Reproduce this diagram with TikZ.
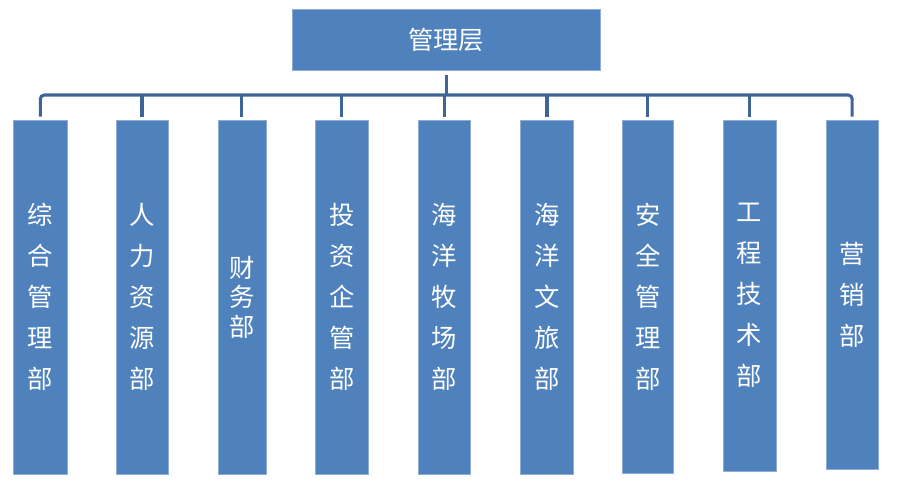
\documentclass[tikz,border=0pt]{standalone}
\usepackage{fontspec}
\newfontfamily\cjk{Noto Sans CJK SC}
\definecolor{boxblue}{HTML}{4F81BD}
\definecolor{edgeblue}{HTML}{8DADD6}
\definecolor{lineblue}{HTML}{3D6597}
\begin{document}
\begin{tikzpicture}[x=0.75pt, y=-0.75pt,
    dept/.style={rectangle, fill=boxblue, draw=edgeblue, line width=0.4pt, inner sep=0pt, anchor=north,
        text=white, align=center, font=\cjk\fontsize{19}{30.75}\selectfont},
    link/.style={draw=lineblue, line width=2.3pt}]
    \useasboundingbox (0,0) rectangle (900,488);
    % top box
    \node[rectangle, fill=boxblue, draw=edgeblue, line width=0.4pt, minimum width=230.5pt, minimum height=46pt,
        text=white, font=\cjk\fontsize{19}{23}\selectfont] (top) at (446.3,40) {管理层};
    % departments
    \node[dept, minimum width=40.5pt, minimum height=265.5pt] (b1) at (40.3,120) {综\\合\\管\\理\\部};
    \node[dept, minimum width=39pt, minimum height=265.3pt] (b2) at (142,120) {人\\力\\资\\源\\部};
    \node[dept, minimum width=35.8pt, minimum height=265.5pt, font=\cjk\fontsize{19}{22}\selectfont] (b3) at (241.9,120) {财\\务\\部};
    \node[dept, minimum width=40pt, minimum height=265.3pt] (b4) at (341.7,120) {投\\资\\企\\管\\部};
    \node[dept, minimum width=39.3pt, minimum height=265.3pt] (b5) at (444.5,120) {海\\洋\\牧\\场\\部};
    \node[dept, minimum width=39.5pt, minimum height=265.3pt] (b6) at (547,120) {海\\洋\\文\\旅\\部};
    \node[dept, minimum width=38pt, minimum height=264.75pt] (b7) at (647.7,120) {安\\全\\管\\理\\部};
    \node[dept, minimum width=39.75pt, minimum height=263pt] (b8) at (749.5,120) {工\\程\\技\\术\\部};
    \node[dept, minimum width=39.2pt, minimum height=262pt] (b9) at (852.2,120) {营\\销\\部};
    % stem from top box down to the bus
    \coordinate (bus) at (446.3,95);
    \draw[link, shorten <=3pt] (top.south) -- (bus);
    % bus from first to last department
    \draw[link, rounded corners=3pt, shorten <=2.5pt, shorten >=2.5pt] (b1.north) |- (bus) -| (b9.north);
    % stubs down to the other departments
    \foreach \b in {b2,b3,b4,b5,b6,b7,b8}
        \draw[link, shorten <=2.5pt] (\b.north) -- (\b.north |- bus);
\end{tikzpicture}
\end{document}
